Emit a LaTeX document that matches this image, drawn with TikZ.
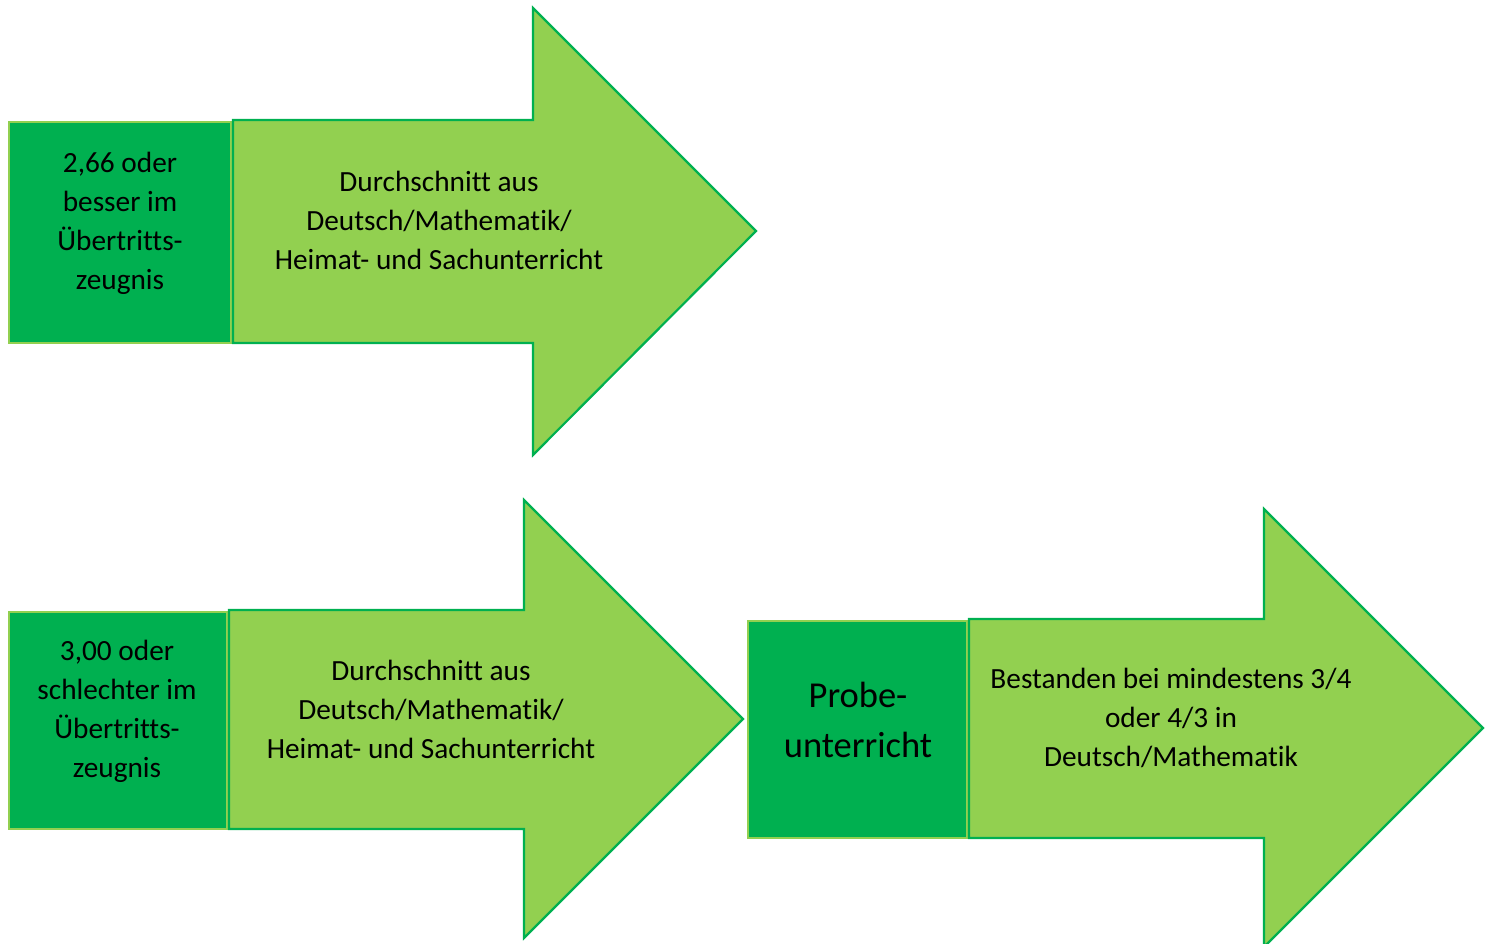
\documentclass[tikz,border=0pt]{standalone}
\usepackage{fontspec}
\setmainfont{Carlito}[Ligatures={NoCommon}]
\definecolor{dkgreen}{HTML}{00B050}
\definecolor{ltgreen}{HTML}{92D050}
\begin{document}
\begin{tikzpicture}[x=1pt,y=-1pt,
  box/.style={fill=dkgreen,draw=ltgreen,line width=2.5pt},
  arrowshape/.style={fill=ltgreen,draw=dkgreen,line width=2.2pt,line join=miter},
  txt/.style={align=center,font=\fontsize{29.3}{39}\selectfont,inner sep=0pt},
  bigtxt/.style={align=center,font=\fontsize{36.5}{50}\selectfont,inner sep=0pt}]
\useasboundingbox (0,0) rectangle (1491,944);
\begin{scope}
\clip (0,0) rectangle (1491,944);
% row 1
\draw[box] (9,122) rectangle (231,343);
\draw[arrowshape] (233,120) -- (533,120) -- (533,8) -- (756,231) -- (533,455) -- (533,343) -- (233,343) -- cycle;
% row 2
\draw[box] (9,612) rectangle (227,829);
\draw[arrowshape] (229,610) -- (524,610) -- (524,500) -- (743,719) -- (524,938) -- (524,829) -- (229,829) -- cycle;
% row 3
\draw[box] (748,621) rectangle (967,838);
\draw[arrowshape] (969,619) -- (1264,619) -- (1264,509) -- (1483,728) -- (1264,947) -- (1264,838) -- (969,838) -- cycle;
\end{scope}
\node[txt] (t1) at (120,223) {2,66 oder\\besser im\\Übertritts-\\zeugnis};
\node[txt] (a1) at (439,220) {Durchschnitt aus\\Deutsch/Mathematik/\\Heimat- und Sachunterricht};
\node[txt] (t2) at (117,711) {3,00 oder\\schlechter im\\Übertritts-\\zeugnis};
\node[txt] (a2) at (431,709) {Durchschnitt aus\\Deutsch/Mathematik/\\Heimat- und Sachunterricht};
\node[bigtxt] (t3) at (858,720) {Probe-\\unterricht};
\node[txt] (a3) at (1171,718) {Bestanden bei mindestens 3/4\\oder 4/3 in\\Deutsch/Mathematik};
\end{tikzpicture}
\end{document}
